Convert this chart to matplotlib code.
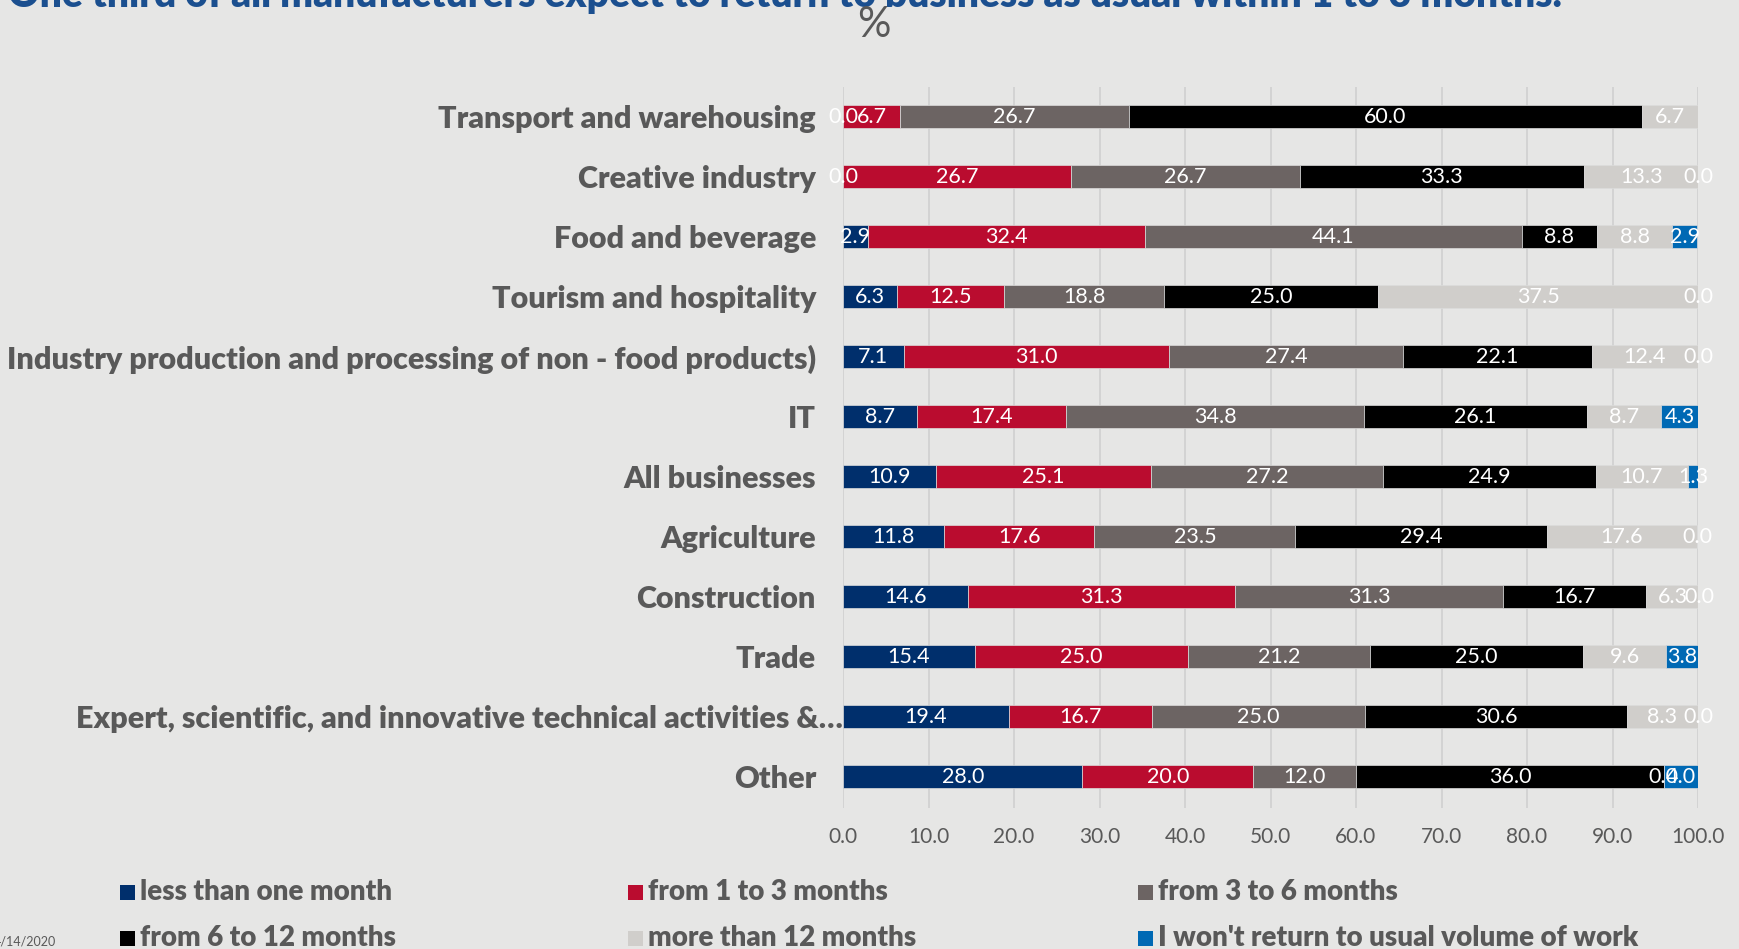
import matplotlib
matplotlib.use("Agg")
import matplotlib.pyplot as plt
from matplotlib.patches import Rectangle
from matplotlib.transforms import ScaledTranslation
import numpy as np

# Sectors, top to bottom
categories = [
    "Transport and warehousing",
    "Creative industry",
    "Food and beverage",
    "Tourism and hospitality",
    "Industry production and processing of non - food products)",
    "IT",
    "All businesses",
    "Agriculture",
    "Construction",
    "Trade",
    "Expert, scientific, and innovative technical activities &\u2026",
    "Other",
]

series_names = [
    "less than one month",
    "from 1 to 3 months",
    "from 3 to 6 months",
    "from 6 to 12 months",
    "more than 12 months",
    "I won't return to usual volume of work",
]

# Share of respondents (%) per sector for each expected recovery period
less_than_one_month = [0.0, 0.0, 2.9, 6.3, 7.1, 8.7, 10.9, 11.8, 14.6, 15.4, 19.4, 28.0]
from_1_to_3_months = [6.7, 26.7, 32.4, 12.5, 31.0, 17.4, 25.1, 17.6, 31.3, 25.0, 16.7, 20.0]
from_3_to_6_months = [26.7, 26.7, 44.1, 18.8, 27.4, 34.8, 27.2, 23.5, 31.3, 21.2, 25.0, 12.0]
from_6_to_12_months = [60.0, 33.3, 8.8, 25.0, 22.1, 26.1, 24.9, 29.4, 16.7, 25.0, 30.6, 36.0]
more_than_12_months = [6.7, 13.3, 8.8, 37.5, 12.4, 8.7, 10.7, 17.6, 6.3, 9.6, 8.3, 0.0]
wont_return = [None, 0.0, 2.9, 0.0, 0.0, 4.3, 1.3, 0.0, 0.0, 3.8, 0.0, 4.0]

series_values = [
    less_than_one_month,
    from_1_to_3_months,
    from_3_to_6_months,
    from_6_to_12_months,
    more_than_12_months,
    wont_return,
]

series_colors = ["#002F6C", "#BA0C2F", "#6C6463", "#000000", "#D0CECB", "#0069B4"]

x_ticks = [0, 10, 20, 30, 40, 50, 60, 70, 80, 90, 100]

title = "One third of all manufacturers expect to return to business as usual within 1 to 3 months."

BG = "#E6E6E5"
TEXT_GREY = "#595959"
FONT = "Lato"

W, H = 1739, 949
fig = plt.figure(figsize=(W / 100, H / 100), dpi=100, facecolor=BG)

# Plot area in pixel terms
ax_left, ax_right = 843, 1698
ax_top, ax_bottom = 87, 808
ax = fig.add_axes([ax_left / W, 1 - ax_bottom / H, (ax_right - ax_left) / W, (ax_bottom - ax_top) / H])
ax.set_facecolor(BG)

y = np.arange(len(categories))
left = np.zeros(len(categories))
bar_h = 0.383
for name, vals, col in zip(series_names, series_values, series_colors):
    v = np.array([np.nan if a is None else a for a in vals], dtype=float)
    widths = np.nan_to_num(v)
    ax.barh(y, widths, left=left, height=bar_h, color=col, edgecolor="#DCDCDC",
            linewidth=0.5, zorder=3, label=name)
    for i, val in enumerate(v):
        if np.isnan(val):
            continue
        ax.text(left[i] + widths[i] / 2, y[i], f"{val:.1f}", ha="center", va="center",
                color="white", fontsize=15.5, family=FONT, zorder=5)
    left = left + widths

ax.set_xlim(0, 100)
ax.set_ylim(11.525, -0.492)
ax.set_xticks(x_ticks)
ax.set_xticklabels([f"{t:.1f}" for t in x_ticks], fontsize=15, family=FONT, color=TEXT_GREY)
ax.set_yticks(y)
ax.set_yticklabels(categories, fontsize=22, family=FONT, fontweight="heavy", color=TEXT_GREY)
ax.tick_params(axis="x", length=0, pad=14)
ax.tick_params(axis="y", length=0, pad=19.5)
ax.grid(axis="x", color="#D2D2D2", linewidth=1.3, zorder=0)
for s in ax.spines.values():
    s.set_visible(False)

# The truncated long label sits slightly further right
lbl = ax.get_yticklabels()[10]
lbl.set_transform(lbl.get_transform() + ScaledTranslation(27 / 100, 0, fig.dpi_scale_trans))

# Title (runs off the top edge) and unit
fig.text(8 / W, 1 - 7 / H, title, ha="left", va="baseline", fontsize=28,
         family=FONT, fontweight="heavy", color="#1B4F8F")
fig.text(874 / W, 1 - 25 / H, "%", ha="center", va="center", fontsize=30,
         family=FONT, color=TEXT_GREY)

# Legend, three equal-width columns
col_x = [120, 628, 1138]
row_y = [892, 938]
sq = 15
for k, (name, col) in enumerate(zip(series_names, series_colors)):
    r, c = divmod(k, 3)
    x0, yc = col_x[c], row_y[r]
    fig.patches.append(Rectangle((x0 / W, 1 - (yc + sq / 2) / H), sq / W, sq / H,
                                 transform=fig.transFigure, facecolor=col, edgecolor="none"))
    fig.text((x0 + sq + 5) / W, 1 - yc / H, name, ha="left", va="center", fontsize=20,
             family=FONT, fontweight="heavy", color=TEXT_GREY)

# Footer date
fig.text(56 / W, 1 - 946 / H, "4/14/2020", ha="right", va="baseline", fontsize=9,
         family=FONT, color=TEXT_GREY)

fig.savefig("out.png", dpi=100, facecolor=BG)
